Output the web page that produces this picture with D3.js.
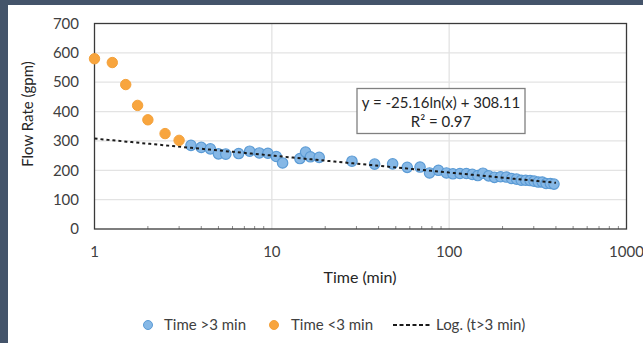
<!DOCTYPE html>
<html>
<head>
<meta charset="utf-8">
<script src="https://cdn.jsdelivr.net/npm/d3@7"></script>
<style>
  html, body { margin: 0; padding: 0; background: #44546a; }
  svg { display: block; font-family: Lato, "Open Sans", sans-serif; }
</style>
</head>
<body>
<div id="chart"></div>
<script>
// early readings (t < 3 min)
const shortTime = [1, 1.26, 1.5, 1.75, 2, 2.5, 3];
const shortFlow = [580, 567, 492, 421, 372, 325, 302];

// later readings (t > 3 min)
const longTime = [3.5, 4, 4.5, 5, 5.5, 6.5, 7.5, 8.5, 9.5, 10.6, 11.5, 14.4, 15.5, 16.5, 18.5,
  28.3, 38, 48, 58, 68.5, 77.5, 87, 96.5, 105, 115, 125, 135, 145, 155, 167, 180, 195,
  210, 225, 240, 255, 270, 286, 301, 318, 335, 352, 372, 390];
const longFlow = [285, 278, 273, 256, 255, 257, 265, 259, 258, 247, 225, 240, 262, 246, 244,
  231, 221, 222, 210, 211, 191, 200, 191, 188, 189, 189, 186, 182, 190, 181, 176, 178,
  177, 172, 170, 166, 166, 165, 163, 160, 160, 155, 155, 153];

// log fit from the chart label
const fitA = -25.16, fitB = 308.11;
const fitRange = [1, 400];

const xTicks = [1, 10, 100, 1000];
const yTicks = [0, 100, 200, 300, 400, 500, 600, 700];

const W = 643, H = 343;
const svg = d3.select("#chart").append("svg")
  .attr("width", W).attr("height", H);

// white page area (dark frame on left/top)
svg.append("rect").attr("x", 8).attr("y", 5)
  .attr("width", W - 8).attr("height", H - 5).attr("fill", "#fff");

const x = d3.scaleLog().domain([1, 1000]).range([94.5, 626.5]);
const y = d3.scaleLinear().domain([0, 700]).range([229, 23.5]);

// horizontal grid
svg.selectAll(".hgrid").data(yTicks.slice(1, -1)).enter().append("line")
  .attr("x1", x(1)).attr("x2", x(1000))
  .attr("y1", d => y(d)).attr("y2", d => y(d))
  .attr("stroke", "#e3e3e3").attr("stroke-width", 1.3);
// vertical grid
svg.selectAll(".vgrid").data([10, 100]).enter().append("line")
  .attr("x1", d => x(d)).attr("x2", d => x(d))
  .attr("y1", y(0)).attr("y2", y(700))
  .attr("stroke", "#e3e3e3").attr("stroke-width", 1.3);

// minor ticks on x axis (inside)
const minor = [];
[1, 10, 100].forEach(dec => { for (let k = 2; k <= 9; k++) minor.push(dec * k); });
svg.selectAll(".minor").data(minor).enter().append("line")
  .attr("x1", d => x(d)).attr("x2", d => x(d))
  .attr("y1", y(0)).attr("y2", y(0) - 3)
  .attr("stroke", "#8c8c8c").attr("stroke-width", 1);

// plot frame
svg.append("rect")
  .attr("x", x(1)).attr("y", y(700))
  .attr("width", x(1000) - x(1)).attr("height", y(0) - y(700))
  .attr("fill", "none").attr("stroke", "#3a3a3a").attr("stroke-width", 1.3);

// y labels
svg.selectAll(".ylab").data(yTicks).enter().append("text")
  .attr("x", 79).attr("y", d => y(d)).attr("dy", "0.35em")
  .attr("text-anchor", "end").attr("font-size", 15).attr("fill", "#404040")
  .text(d => d);
// x labels
svg.selectAll(".xlab").data(xTicks).enter().append("text")
  .attr("x", d => x(d)).attr("y", 252).attr("dy", "0.35em")
  .attr("text-anchor", "middle").attr("font-size", 15).attr("fill", "#404040")
  .text(d => d);

// axis titles
svg.append("text").attr("x", 360).attr("y", 277).attr("dy", "0.35em")
  .attr("text-anchor", "middle").attr("font-size", 16).attr("fill", "#262626")
  .text("Time (min)");
svg.append("text")
  .attr("transform", "translate(28,114)rotate(-90)").attr("dy", "0.35em")
  .attr("text-anchor", "middle").attr("font-size", 15).attr("fill", "#262626")
  .text("Flow Rate (gpm)");

// trend line
const fitPts = d3.range(0, 101).map(i => {
  const t = Math.pow(10, Math.log10(fitRange[0]) + i / 100 * (Math.log10(fitRange[1]) - Math.log10(fitRange[0])));
  return [t, fitA * Math.log(t) + fitB];
});

// points
const blue = longTime.map((t, i) => ({ t: t, q: longFlow[i] }));
const orange = shortTime.map((t, i) => ({ t: t, q: shortFlow[i] }));

svg.selectAll(".blue").data(blue).enter().append("circle")
  .attr("cx", d => x(d.t)).attr("cy", d => y(d.q)).attr("r", 5.2)
  .attr("fill", "#86b8e6").attr("stroke", "#5b9bd5").attr("stroke-width", 1.2);

svg.append("path")
  .attr("d", d3.line().x(d => x(d[0])).y(d => y(d[1]))(fitPts))
  .attr("fill", "none").attr("stroke", "#1a1a1a")
  .attr("stroke-width", 2).attr("stroke-dasharray", "3,3");

svg.selectAll(".orange").data(orange).enter().append("circle")
  .attr("cx", d => x(d.t)).attr("cy", d => y(d.q)).attr("r", 5.2)
  .attr("fill", "#f8a53e").attr("stroke", "#f4a13a").attr("stroke-width", 1);

// equation box
const box = svg.append("g");
box.append("rect").attr("x", 357).attr("y", 88.5).attr("width", 168).attr("height", 45)
  .attr("fill", "#fff").attr("stroke", "#808080").attr("stroke-width", 1.3);
box.append("text").attr("x", 441).attr("y", 103).attr("dy", "0.35em")
  .attr("text-anchor", "middle").attr("font-size", 15).attr("fill", "#262626")
  .text("y = -25.16ln(x) + 308.11");
box.append("text").attr("x", 441).attr("y", 122).attr("dy", "0.35em")
  .attr("text-anchor", "middle").attr("font-size", 15).attr("fill", "#262626")
  .text("R² = 0.97");

// legend
const ly = 325;
svg.append("circle").attr("cx", 148).attr("cy", ly).attr("r", 4.5)
  .attr("fill", "#86b8e6").attr("stroke", "#5b9bd5");
svg.append("text").attr("x", 164).attr("y", ly).attr("dy", "0.35em")
  .attr("font-size", 15).attr("fill", "#404040").text("Time >3 min");
svg.append("circle").attr("cx", 274).attr("cy", ly).attr("r", 4.5)
  .attr("fill", "#f8a53e").attr("stroke", "#f4a13a");
svg.append("text").attr("x", 291).attr("y", ly).attr("dy", "0.35em")
  .attr("font-size", 15).attr("fill", "#404040").text("Time <3 min");
svg.append("line").attr("x1", 393).attr("x2", 431).attr("y1", ly).attr("y2", ly)
  .attr("stroke", "#1a1a1a").attr("stroke-width", 2).attr("stroke-dasharray", "4,2.5");
svg.append("text").attr("x", 436).attr("y", ly).attr("dy", "0.35em")
  .attr("font-size", 15).attr("fill", "#404040").text("Log. (t>3 min)");
</script>
</body>
</html>
